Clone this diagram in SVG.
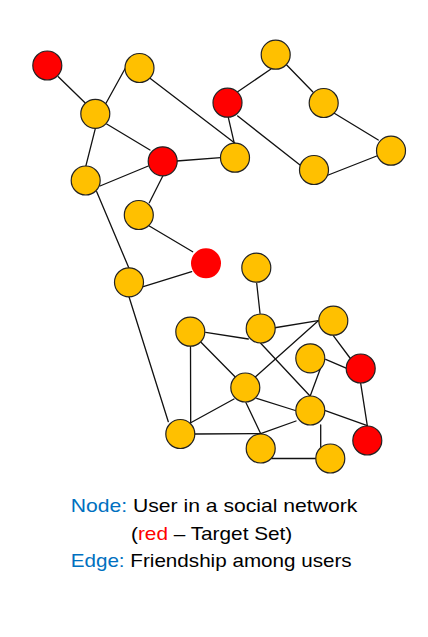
<svg xmlns="http://www.w3.org/2000/svg" width="428" height="637" viewBox="0 0 428 637">
<style>
.e{stroke:#111;stroke-width:1.3;fill:none;stroke-linecap:round}
.y{fill:#FFC000;stroke:#222;stroke-width:1.2}
.r{fill:#FF0000;stroke:#222;stroke-width:1.2}
.rn{fill:#FF0000;stroke:none}
.t{font-family:"Liberation Sans",Arial,sans-serif;font-size:19px;fill:#000}
.b{fill:#0070C0}
.rd{fill:#FF0000}
</style>
<rect width="428" height="637" fill="#fff"/>
<g id="edges" class="e">
<line x1="58.3" y1="76.7" x2="85" y2="102.7"/>
<line x1="106" y1="103.3" x2="125.3" y2="68.3"/>
<line x1="150" y1="78.3" x2="235" y2="143.3"/>
<line x1="106.7" y1="124" x2="150" y2="150"/>
<line x1="95.3" y1="128.7" x2="85.7" y2="166.7"/>
<line x1="100" y1="186" x2="148.3" y2="166"/>
<line x1="176.7" y1="161" x2="220.7" y2="157.7"/>
<line x1="163.3" y1="175" x2="149.3" y2="202.7"/>
<line x1="237.7" y1="91.7" x2="271" y2="69"/>
<line x1="286.7" y1="65" x2="312.7" y2="91.7"/>
<line x1="334.3" y1="113.3" x2="378.3" y2="140"/>
<line x1="376.7" y1="156" x2="328.3" y2="175"/>
<line x1="237.7" y1="116" x2="300" y2="165"/>
<line x1="228.3" y1="117.3" x2="234.3" y2="143.3"/>
<line x1="96.7" y1="191.7" x2="129" y2="268.3"/>
<line x1="149.3" y1="226" x2="192.7" y2="251.7"/>
<line x1="143.3" y1="286.7" x2="191.7" y2="271.7"/>
<line x1="129" y1="296.7" x2="168.3" y2="421.7"/>
<line x1="256.7" y1="283.3" x2="260" y2="313.3"/>
<line x1="205.7" y1="332.3" x2="248.3" y2="339"/>
<line x1="273.3" y1="328" x2="318.3" y2="320.7"/>
<line x1="190.5" y1="346.5" x2="190.7" y2="422.7"/>
<line x1="201" y1="342.3" x2="235" y2="376.7"/>
<line x1="318.3" y1="320.7" x2="255" y2="377.3"/>
<line x1="260.7" y1="343.3" x2="310" y2="396"/>
<line x1="333.3" y1="335.7" x2="350" y2="358"/>
<line x1="325.7" y1="359.3" x2="346.7" y2="368.3"/>
<line x1="321.7" y1="365" x2="310.3" y2="395.7"/>
<line x1="256.7" y1="398.3" x2="295.3" y2="410.5"/>
<line x1="190.7" y1="422.7" x2="234" y2="399"/>
<line x1="246" y1="402.7" x2="260.7" y2="433.7"/>
<line x1="195" y1="434" x2="260.7" y2="433.7"/>
<line x1="260.7" y1="433.7" x2="296" y2="421"/>
<line x1="325.3" y1="410.7" x2="367.3" y2="425.7"/>
<line x1="360.7" y1="383.3" x2="367.3" y2="425.7"/>
<line x1="320.7" y1="425" x2="320.7" y2="446.7"/>
<line x1="271.7" y1="458.5" x2="315.5" y2="458.5"/>
</g>
<g id="n1"><circle class="r" cx="47.3" cy="65.5" r="14.5"/></g>
<g id="n2"><circle class="y" cx="139.5" cy="68" r="14.5"/></g>
<g id="n3"><circle class="y" cx="95.3" cy="113.8" r="14.5"/></g>
<g id="n4"><circle class="r" cx="162.7" cy="161.3" r="14.5"/></g>
<g id="n5"><circle class="y" cx="85.7" cy="180.5" r="14.5"/></g>
<g id="n6"><circle class="y" cx="275.7" cy="54.7" r="14.5"/></g>
<g id="n7"><circle class="r" cx="227.5" cy="102.7" r="14.5"/></g>
<g id="n8"><circle class="y" cx="323.7" cy="103" r="14.5"/></g>
<g id="n9"><circle class="y" cx="235" cy="157.7" r="14.5"/></g>
<g id="n10"><circle class="y" cx="314" cy="170" r="14.5"/></g>
<g id="n11"><circle class="y" cx="391" cy="150.7" r="14.5"/></g>
<g id="n12"><circle class="y" cx="138.8" cy="215" r="14.5"/></g>
<g id="n13"><circle class="rn" cx="206" cy="263.3" r="15"/></g>
<g id="n14"><circle class="y" cx="256.3" cy="267.7" r="14.5"/></g>
<g id="n15"><circle class="y" cx="129" cy="282.3" r="14.5"/></g>
<g id="n16"><circle class="y" cx="190.3" cy="331.7" r="14.5"/></g>
<g id="n17"><circle class="y" cx="260.7" cy="328.5" r="14.5"/></g>
<g id="n18"><circle class="y" cx="333.3" cy="320.7" r="14.5"/></g>
<g id="n19"><circle class="y" cx="310.3" cy="358.3" r="14.5"/></g>
<g id="n20"><circle class="r" cx="360.7" cy="368.5" r="14.5"/></g>
<g id="n21"><circle class="y" cx="245.3" cy="387.5" r="14.5"/></g>
<g id="n22"><circle class="y" cx="310.3" cy="410.5" r="14.5"/></g>
<g id="n23"><circle class="r" cx="367.3" cy="440.5" r="14.5"/></g>
<g id="n24"><circle class="y" cx="180.3" cy="434" r="14.5"/></g>
<g id="n25"><circle class="y" cx="260.7" cy="448.5" r="14.5"/></g>
<g id="n26"><circle class="y" cx="330.3" cy="458.5" r="14.5"/></g>
<g id="legend">
<text class="t" x="70.7" y="512.3" textLength="286.6" lengthAdjust="spacingAndGlyphs"><tspan class="b">Node:</tspan> User in a social network</text>
<text class="t" x="131" y="539.5" textLength="161.3" lengthAdjust="spacingAndGlyphs">(<tspan class="rd">red</tspan> – Target Set)</text>
<text class="t" x="70.7" y="567.3" textLength="281" lengthAdjust="spacingAndGlyphs"><tspan class="b">Edge:</tspan> Friendship among users</text>
</g>
</svg>
